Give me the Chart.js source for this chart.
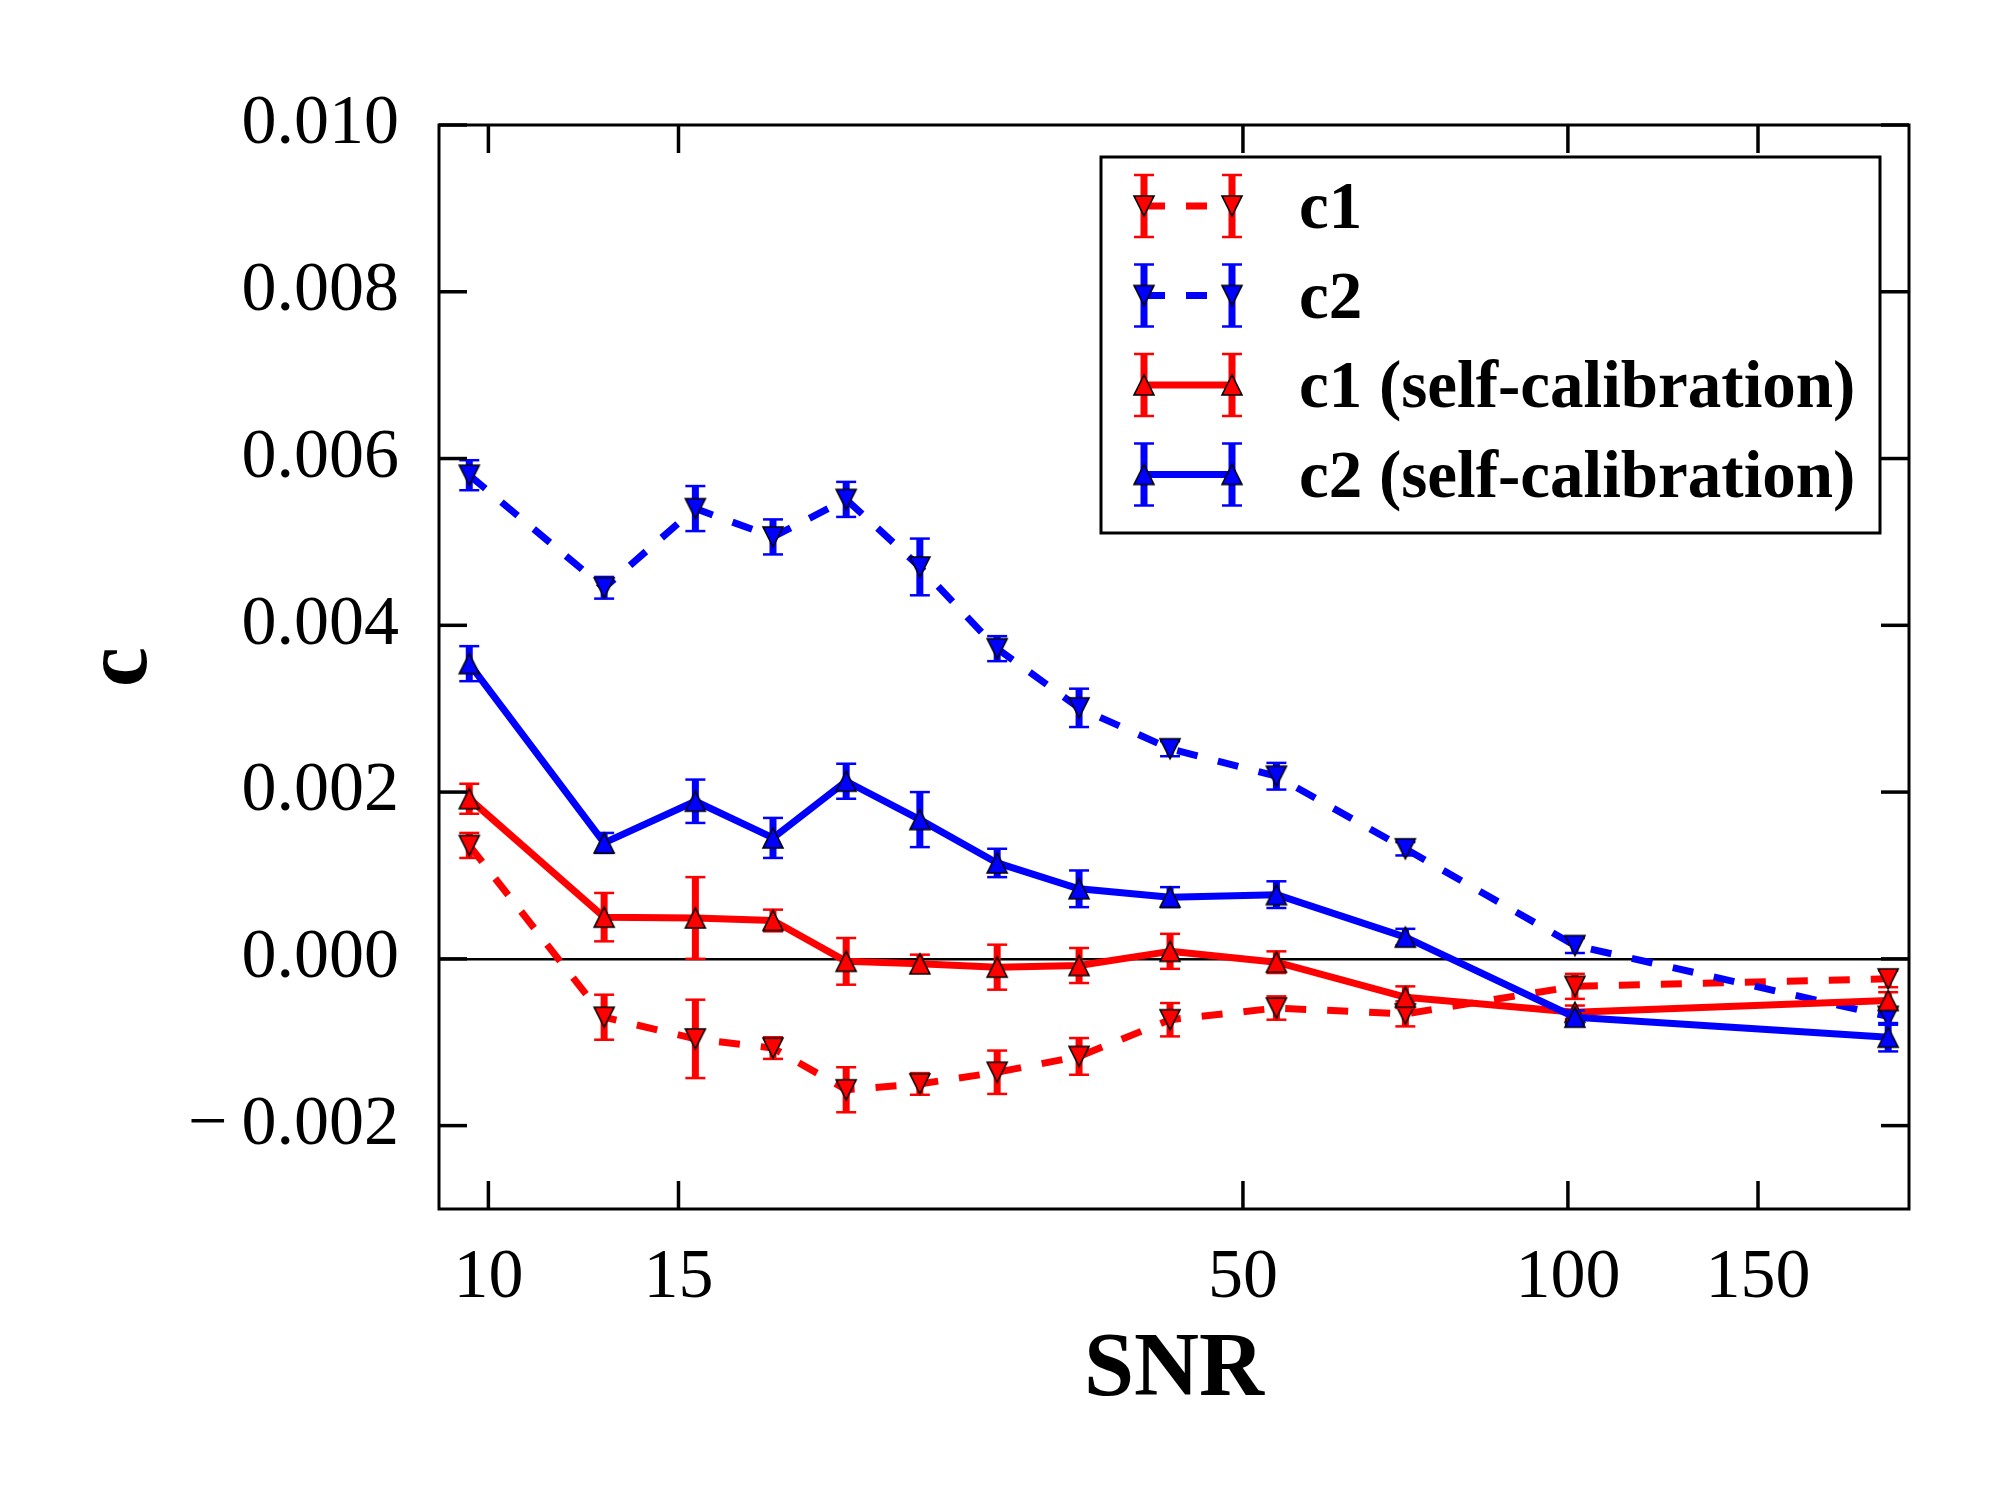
<!DOCTYPE html>
<html>
<head>
<meta charset="utf-8">
<title>c vs SNR</title>
<script src="https://cdn.jsdelivr.net/npm/chart.js@4.4.1/dist/chart.umd.min.js"></script>
<style>
  html, body { margin: 0; padding: 0; background: #fff; }
  #wrap { width: 2000px; height: 1500px; }
</style>
</head>
<body>
<div id="wrap"><canvas id="chart" width="2000" height="1500"></canvas></div>
<script>
// data
var snr = [9.6, 12.8, 15.55, 18.35, 21.45, 25.1, 29.6, 35.25, 42.8, 53.7, 70.7, 101.5, 198];

var c1    = [0.00136, -0.00070, -0.00096, -0.00107, -0.00157, -0.00150, -0.00136, -0.00117, -0.00073, -0.00059, -0.00066, -0.00033, -0.00024];
var c1Err = [0.00015, 0.00027, 0.00047, 0.00013, 0.00027, 0.00013, 0.00026, 0.00022, 0.00020, 0.00014, 0.00015, 0.00015, 0.00010];

var c2    = [0.00580, 0.00445, 0.00540, 0.00506, 0.00551, 0.00470, 0.00372, 0.00301, 0.00252, 0.00219, 0.00132, 0.00016, -0.00069];
var c2Err = [0.00018, 0.00013, 0.00027, 0.00021, 0.00021, 0.00034, 0.00015, 0.00023, 0.00009, 0.00016, 0.00008, 0.00009, 0.00010];

var c1Self    = [0.00192, 0.00050, 0.00049, 0.00046, -0.00003, -0.00006, -0.00010, -0.00008, 0.00009, -0.00004, -0.00046, -0.00064, -0.00050];
var c1SelfErr = [0.00018, 0.00029, 0.00049, 0.00013, 0.00028, 0.00011, 0.00027, 0.00021, 0.00021, 0.00013, 0.00013, 0.00008, 0.00010];

var c2Self    = [0.00354, 0.00139, 0.00189, 0.00145, 0.00213, 0.00167, 0.00115, 0.00084, 0.00074, 0.00077, 0.00026, -0.00070, -0.00094];
var c2SelfErr = [0.00021, 0.00012, 0.00026, 0.00024, 0.00021, 0.00033, 0.00017, 0.00022, 0.00012, 0.00016, 0.00010, 0.00008, 0.00017];

var xTicks = [10, 15, 50, 100, 150];
var yTicks = [-0.002, 0, 0.002, 0.004, 0.006, 0.008, 0.010];

var RED = '#ff0000', BLUE = '#0000ff';
var SERIF = '"Liberation Serif", "DejaVu Serif", serif';

// matplotlib style triangle markers
function triangle(color, down) {
    var c = document.createElement('canvas');
    c.width = 26; c.height = 26;
    var g = c.getContext('2d');
    g.beginPath();
    if (down) { g.moveTo(13, 23); g.lineTo(3, 3); g.lineTo(23, 3); }
    else { g.moveTo(13, 3); g.lineTo(3, 23); g.lineTo(23, 23); }
    g.closePath();
    g.fillStyle = color;
    g.fill();
    g.lineWidth = 1.6;
    g.strokeStyle = '#000';
    g.stroke();
    return c;
}

function pts(ys) {
    return snr.map(function(x, i){ return {x: x, y: ys[i]}; });
}

function series(label, ys, errs, color, dashed, down, order) {
    return {
        label: label,
        data: pts(ys),
        errors: errs,
        showLine: true,
        fill: false,
        borderColor: color,
        backgroundColor: color,
        borderWidth: 7,
        borderDash: dashed ? [21, 21] : [],
        borderCapStyle: 'butt',
        borderJoinStyle: 'round',
        pointStyle: triangle(color, down),
        pointRadius: 10,
        pointHoverRadius: 10,
        order: order
    };
}

function seg(ctx, x0, y0, x1, y1) {
    ctx.beginPath();
    ctx.moveTo(x0, y0);
    ctx.lineTo(x1, y1);
    ctx.stroke();
}

function drawErr(ctx, x, top, bot, color) {
    ctx.strokeStyle = color;
    ctx.setLineDash([]);
    ctx.lineWidth = 7;
    seg(ctx, x, top, x, bot);
    ctx.lineWidth = 2.5;
    seg(ctx, x - 10, top, x + 10, top);
    seg(ctx, x - 10, bot, x + 10, bot);
}

// error bars go right under each series
var errorBars = {
    id: 'errorBars',
    beforeDatasetDraw: function(chart, args) {
        var ds = chart.data.datasets[args.index];
        var xs = chart.scales.x, ys = chart.scales.y, ctx = chart.ctx;
        ctx.save();
        ds.data.forEach(function(p, i){
            var px = xs.getPixelForValue(p.x);
            drawErr(ctx, px, ys.getPixelForValue(p.y + ds.errors[i]), ys.getPixelForValue(p.y - ds.errors[i]), ds.borderColor);
        });
        ctx.restore();
    }
};

// box + inward ticks on all four sides
var frame = {
    id: 'frame',
    afterDatasetsDraw: function(chart) {
        var a = chart.chartArea, ctx = chart.ctx;
        var xs = chart.scales.x, ys = chart.scales.y, len = 28;
        ctx.save();
        ctx.strokeStyle = '#000';
        ctx.lineWidth = 3.5;
        xTicks.forEach(function(v){
            var px = xs.getPixelForValue(v);
            seg(ctx, px, a.bottom, px, a.bottom - len);
            seg(ctx, px, a.top, px, a.top + len);
        });
        yTicks.forEach(function(v){
            var py = ys.getPixelForValue(v);
            seg(ctx, a.left, py, a.left + len, py);
            seg(ctx, a.right, py, a.right - len, py);
        });
        ctx.lineWidth = 3;
        ctx.strokeRect(a.left, a.top, a.right - a.left, a.bottom - a.top);
        ctx.restore();
    }
};

var legendBox = {
    id: 'legendBox',
    afterDraw: function(chart) {
        var a = chart.chartArea, ctx = chart.ctx;
        var w = 779, h = 376;
        var bx = a.right - 29 - w, by = a.top + 32;
        ctx.save();
        ctx.fillStyle = '#fff';
        ctx.fillRect(bx, by, w, h);
        ctx.lineWidth = 3;
        ctx.strokeStyle = '#000';
        ctx.strokeRect(bx, by, w, h);
        chart.data.datasets.forEach(function(ds, i){
            var y = by + 49 + i * 89.5;
            var x0 = bx + 43, x1 = bx + 131;
            ctx.strokeStyle = ds.borderColor;
            ctx.lineWidth = 7;
            ctx.lineCap = 'butt';
            ctx.setLineDash(ds.borderDash);
            seg(ctx, x0, y, x1, y);
            [x0, x1].forEach(function(x){
                drawErr(ctx, x, y - 31, y + 31, ds.borderColor);
                ctx.drawImage(ds.pointStyle, x - 13, y - 13);
            });
            ctx.fillStyle = '#000';
            ctx.font = 'bold 67px ' + SERIF;
            ctx.textBaseline = 'alphabetic';
            ctx.textAlign = 'left';
            ctx.fillText(ds.label, bx + 198, y + 22);
        });
        ctx.restore();
    }
};

Chart.defaults.font.family = SERIF;
Chart.defaults.color = '#000';

new Chart(document.getElementById('chart').getContext('2d'), {
    type: 'scatter',
    data: {
        datasets: [
            series('c1', c1, c1Err, RED, true, true, 0),
            series('c2', c2, c2Err, BLUE, true, true, -1),
            series('c1 (self-calibration)', c1Self, c1SelfErr, RED, false, false, -2),
            series('c2 (self-calibration)', c2Self, c2SelfErr, BLUE, false, false, -3)
        ]
    },
    options: {
        responsive: false,
        devicePixelRatio: 1,
        animation: false,
        layout: { padding: { left: 0, top: 125, right: 91, bottom: 0 } },
        plugins: { legend: { display: false }, tooltip: { enabled: false } },
        scales: {
            x: {
                type: 'logarithmic',
                min: 9.0,
                max: 207,
                afterBuildTicks: function(s){ s.ticks = xTicks.map(function(v){ return {value: v}; }); },
                afterFit: function(s){ s.height = 291; },
                grid: { display: false, drawTicks: false },
                border: { display: false },
                ticks: {
                    autoSkip: false,
                    maxRotation: 0,
                    padding: 28,
                    font: { size: 70 },
                    callback: function(v){ return String(v); }
                },
                title: {
                    display: true,
                    text: 'SNR',
                    font: { size: 90, weight: 'bold' },
                    padding: { top: 0, bottom: 74 }
                }
            },
            y: {
                min: -0.003,
                max: 0.010,
                afterBuildTicks: function(s){ s.ticks = yTicks.map(function(v){ return {value: v}; }); },
                afterFit: function(s){ s.width = 439; },
                grid: {
                    drawTicks: false,
                    lineWidth: 2.5,
                    color: function(c){ return c.tick && c.tick.value === 0 ? '#000' : 'rgba(0,0,0,0)'; }
                },
                border: { display: false },
                ticks: {
                    padding: 40,
                    font: { size: 70 },
                    callback: function(v){ return (v < 0 ? '\u2212\u2009' : '') + Math.abs(v).toFixed(3); }
                },
                title: {
                    display: true,
                    text: 'c',
                    font: { size: 90, weight: 'bold' },
                    padding: { top: 69, bottom: 0 }
                }
            }
        }
    },
    plugins: [errorBars, frame, legendBox]
});
</script>
</body>
</html>
